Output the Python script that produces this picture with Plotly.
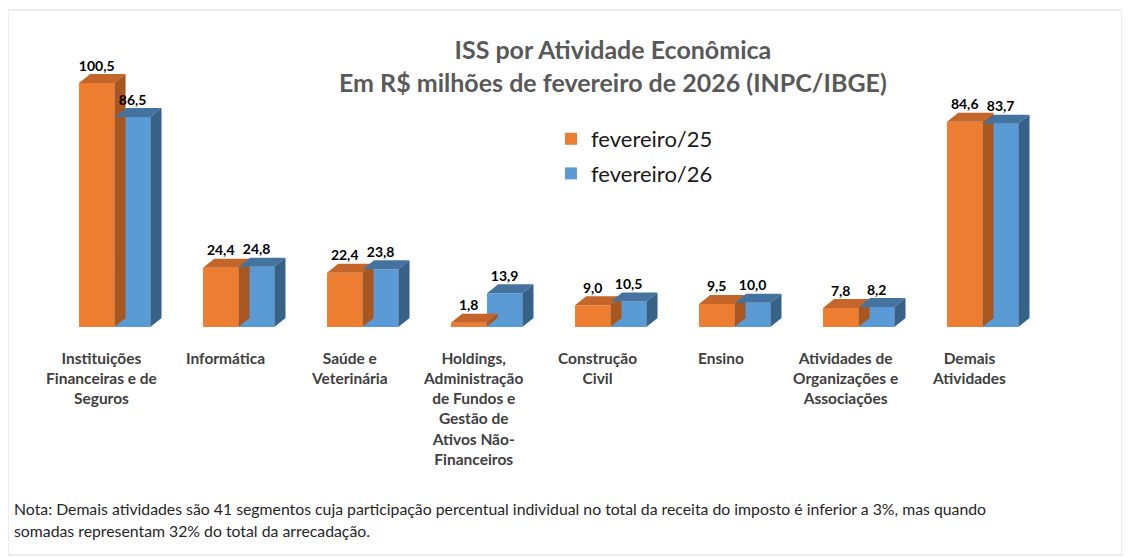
import plotly.graph_objects as go

categories = [
    "Instituições<br>Financeiras e de<br>Seguros",
    "Informática",
    "Saúde e<br>Veterinária",
    "Holdings,<br>Administração<br>de Fundos e<br>Gestão de<br>Ativos Não-<br>Financeiros",
    "Construção<br>Civil",
    "Ensino",
    "Atividades de<br>Organizações e<br>Associações",
    "Demais<br>Atividades",
]
series_names = ["fevereiro/25", "fevereiro/26"]
fev25 = [100.5, 24.4, 22.4, 1.8, 9.0, 9.5, 7.8, 84.6]
fev26 = [86.5, 24.8, 23.8, 13.9, 10.5, 10.0, 8.2, 83.7]

title_lines = ["ISS por Atividade Econômica", "Em R$ milhões de fevereiro de 2026 (INPC/IBGE)"]
note_text = ("Nota: Demais atividades são 41 segmentos cuja participação percentual individual no total da receita do imposto é inferior a 3%, mas quando<br>"
             "somadas representam 32% do total da arrecadação.")

# page offset (body margin of the html page)
OFF = 8
W, H = 1130 - OFF, 558 - OFF
# plot area in reference-page pixels
PL, PR, PT, PB = 53, 1045, 60, 327
L, R, T, B = PL - OFF, W - (PR - OFF), PT - OFF, H - (PB - OFF)
FONT = "Lato"
front_cols = ["#ED7D31", "#5B9BD5"]
top_cols = ["#C4652A", "#44739F"]
side_cols = ["#A9561F", "#36628A"]
bar_w = 0.285
offsets = [-0.29, 0.0]
DX, DY = 0.09, 3.7
YMAX = 110

pw = W - L - R
ph = H - T - B
def pxx(px):  # reference page pixel -> paper x
    return (px - OFF - L) / pw
def pxy(py):  # reference page pixel -> paper y
    return (H - B - (py - OFF)) / ph

fig = go.Figure()
idx = list(range(len(categories)))
for s, (name, vals) in enumerate(zip(series_names, [fev25, fev26])):
    fig.add_trace(go.Bar(x=idx, y=vals, name=name, offset=offsets[s], width=bar_w,
                         marker=dict(color=front_cols[s], line=dict(width=0)),
                         legendgroup=name, hoverinfo="skip"))
    tx, ty, sx, sy = [], [], [], []
    for i, v in zip(idx, vals):
        x0 = i + offsets[s]
        x1 = x0 + bar_w
        tx += [x0, x1, x1 + DX, x0 + DX, x0, None]
        ty += [v, v, v + DY, v + DY, v, None]
        sx += [x1, x1, x1 + DX, x1 + DX, x1, None]
        sy += [0, v, v + DY, DY, 0, None]
    fig.add_trace(go.Scatter(x=tx, y=ty, fill="toself", fillcolor=top_cols[s], mode="lines",
                             line=dict(width=0, color=top_cols[s]), showlegend=False, hoverinfo="skip"))
    fig.add_trace(go.Scatter(x=sx, y=sy, fill="toself", fillcolor=side_cols[s], mode="lines",
                             line=dict(width=0, color=side_cols[s]), showlegend=False, hoverinfo="skip"))
# data labels
for s, vals in enumerate([fev25, fev26]):
    fig.add_trace(go.Scatter(
        x=[i + offsets[s] + bar_w / 2 for i in idx],
        y=[v + DY for v in vals],
        mode="text",
        text=["<b>" + f"{v:.1f}".replace(".", ",") + "</b>" for v in vals],
        textposition="top center",
        textfont=dict(family=FONT, size=14, color="#000000"),
        showlegend=False, hoverinfo="skip"))

annotations = []
for i, c in zip(idx, categories):
    annotations.append(dict(x=i, y=pxy(347), xref="x", yref="paper", text="<b>" + c + "</b>",
                            showarrow=False, xanchor="center", yanchor="top", xshift=-14,
                            align="center", font=dict(family=FONT, size=15.5, color="#404040")))
# title
annotations.append(dict(x=pxx(613), y=pxy(32), xref="paper", yref="paper",
                        text="<b>" + "<br>".join(title_lines) + "</b>",
                        showarrow=False, xanchor="center", yanchor="top", align="center",
                        font=dict(family=FONT, size=25, color="#595959")))
# note
ntxt = "<br>".join(f'<span style="font-size:15.8px">{ln}</span>' for ln in note_text.split("<br>"))
annotations.append(dict(x=pxx(12), y=pxy(497), xref="paper", yref="paper", text=ntxt,
                        showarrow=False, xanchor="left", yanchor="top", align="left",
                        font=dict(family=FONT, size=17, color="#262626")))

fig.update_layout(
    width=W, height=H,
    margin=dict(l=L, r=R, t=T, b=B, autoexpand=False),
    paper_bgcolor="white", plot_bgcolor="white",
    barmode="overlay",
    font=dict(family=FONT),
    xaxis=dict(range=[-0.5, 7.5], visible=False, fixedrange=True),
    yaxis=dict(range=[0, YMAX], visible=False, fixedrange=True),
    legend=dict(x=pxx(551), y=pxy(118), xanchor="left", yanchor="top",
                font=dict(family=FONT, size=22, color="#1a1a1a"),
                tracegroupgap=3, bgcolor="rgba(0,0,0,0)"),
    annotations=annotations,
    shapes=[dict(type="rect", xref="paper", yref="paper",
                 x0=pxx(8), x1=pxx(1122), y0=pxy(555), y1=pxy(10),
                 line=dict(color="#DCDCDC", width=1), fillcolor="rgba(0,0,0,0)", layer="below")],
    showlegend=True,
)

fig.write_html("out.html")
